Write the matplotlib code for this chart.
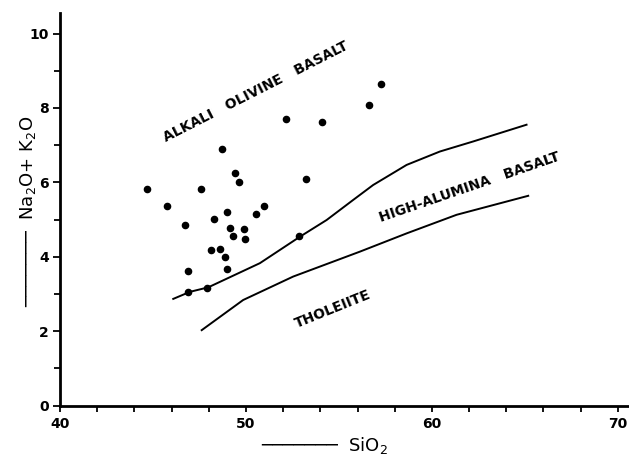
import matplotlib
matplotlib.use("Agg")
import matplotlib.pyplot as plt
from matplotlib.ticker import MultipleLocator

# =========================
# DATA
# =========================
sio2 = [48.69, 49.42, 49.64, 44.69, 47.58, 45.77, 48.96, 48.30, 50.54, 50.97,
        46.74, 49.14, 49.88, 49.32, 49.96, 48.13, 48.62, 48.89, 48.96, 46.88,
        46.88, 47.92, 52.13, 54.07, 56.63, 57.26, 53.21, 52.87]
alkali = [6.90, 6.24, 6.01, 5.82, 5.82, 5.36, 5.21, 5.02, 5.16, 5.37,
          4.85, 4.77, 4.75, 4.56, 4.47, 4.19, 4.21, 3.99, 3.67, 3.61,
          3.06, 3.17, 7.71, 7.63, 8.09, 8.64, 6.10, 4.57]

# boundary alkali olivine basalt / high-alumina basalt
upper_x = [46.09, 46.99, 47.97, 50.75, 52.90, 54.34, 55.77, 56.84, 58.64, 60.43, 62.22, 65.09]
upper_y = [2.87, 3.06, 3.18, 3.83, 4.54, 4.99, 5.53, 5.93, 6.47, 6.83, 7.10, 7.55]

# boundary high-alumina basalt / tholeiite
lower_x = [47.62, 49.85, 52.54, 56.13, 58.64, 61.33, 65.18]
lower_y = [2.03, 2.84, 3.47, 4.14, 4.63, 5.13, 5.64]

# =========================
# PLOT
# =========================
fig = plt.figure(figsize=(6.29, 4.57), dpi=100)
ax = fig.add_axes([60 / 629, 51.3 / 457, 569 / 629, 393 / 457])

ax.plot(upper_x, upper_y, color="black", lw=1.4)
ax.plot(lower_x, lower_y, color="black", lw=1.4)
ax.scatter(sio2, alkali, s=20, color="black", zorder=3)

ax.set_xlim(40, 70.6)
ax.set_ylim(0, 10.56)

ax.spines["top"].set_visible(False)
ax.spines["right"].set_visible(False)
ax.spines["left"].set_linewidth(2)
ax.spines["bottom"].set_linewidth(2)

ax.set_xticks([40, 50, 60, 70])
ax.xaxis.set_minor_locator(MultipleLocator(2))
ax.set_yticks([0, 2, 4, 6, 8, 10])
ax.yaxis.set_minor_locator(MultipleLocator(1))
ax.tick_params(which="both", direction="out", width=1.3, labelsize=10)
ax.tick_params(axis="x", which="major", length=4, pad=4)
ax.tick_params(axis="x", which="minor", length=4)
ax.tick_params(axis="y", which="major", length=5, pad=3)
ax.tick_params(axis="y", which="minor", length=4)
for lab in ax.get_xticklabels() + ax.get_yticklabels():
    lab.set_fontweight("bold")

# field names
ax.text(50.54, 8.43, "ALKALI   OLIVINE   BASALT", rotation=27, fontsize=10,
        fontweight="bold", ha="center", va="center", rotation_mode="anchor")
ax.text(62.0, 5.87, "HIGH-ALUMINA   BASALT", rotation=19, fontsize=10,
        fontweight="bold", ha="center", va="center", rotation_mode="anchor")
ax.text(54.65, 2.60, "THOLEIITE", rotation=22, fontsize=10,
        fontweight="bold", ha="center", va="center", rotation_mode="anchor")

# axis labels (arrow-like line in front of the text)
line = "\u2500" * 7
fig.text(325 / 629, 1 - 445 / 457, line + "  SiO$_2$", fontsize=13,
         ha="center", va="center")
fig.text(28 / 629, 1 - 211 / 457, line + "  Na$_2$O+ K$_2$O", fontsize=13,
         rotation=90, ha="center", va="center")

fig.savefig("out.png", dpi=100)
